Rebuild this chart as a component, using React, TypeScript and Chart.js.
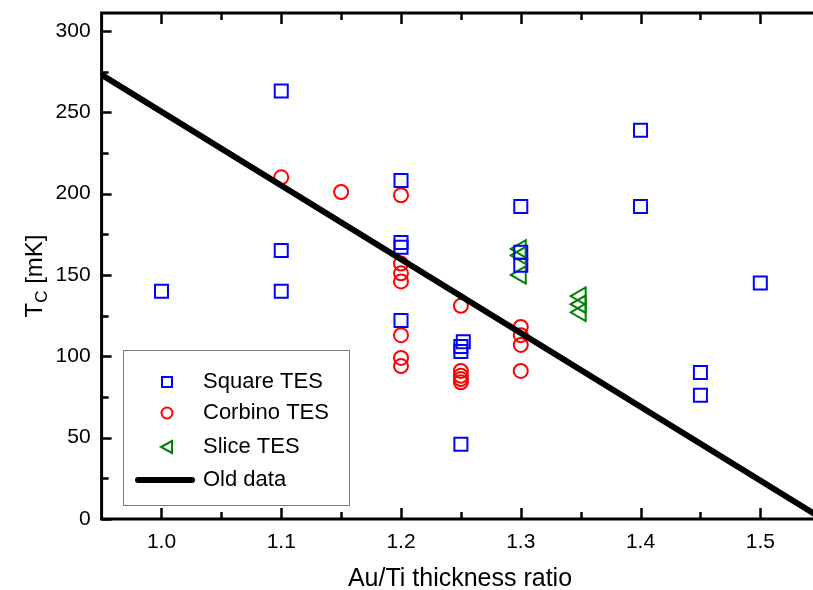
import { useEffect, useRef } from "react";
import { Chart, registerables } from "chart.js";

Chart.register(...registerables);

// ---- Data ----
const squareX = [1.0, 1.1, 1.1, 1.1, 1.2, 1.2, 1.2, 1.2, 1.252, 1.25, 1.25, 1.25, 1.3, 1.3, 1.3, 1.4, 1.4, 1.45, 1.45, 1.5];
const squareY = [140, 263, 165, 140, 208, 170, 167, 122, 109, 106, 103, 46, 192, 164, 156, 239, 192, 90, 76, 145];

const circleX = [1.1, 1.15, 1.2, 1.2, 1.2, 1.2, 1.2, 1.2, 1.2, 1.25, 1.25, 1.25, 1.25, 1.25, 1.3, 1.3, 1.3, 1.3];
const circleY = [210, 201, 199, 157, 151, 146, 113, 99, 94, 131, 91, 88, 86, 84, 118, 113, 107, 91];

const triangleX = [1.3, 1.3, 1.3, 1.35, 1.35, 1.35];
const triangleY = [166, 162, 150, 137, 132, 127];

const oldLineX = [0.95, 1.55];
const oldLineY = [273, 1];

const xTickValues = [1.0, 1.1, 1.2, 1.3, 1.4, 1.5];
const xMinorValues = [1.05, 1.15, 1.25, 1.35, 1.45];
const yTickValues = [0, 50, 100, 150, 200, 250, 300];
const yMinorValues = [25, 75, 125, 175, 225, 275];

const xTitle = "Au/Ti thickness ratio";
const yTitleMain = "T";
const yTitleSub = "C";
const yTitleRest = " [mK]";
const legendLabels = ["Square TES", "Corbino TES", "Slice TES", "Old data"];

const FONT = "'Liberation Sans', Arial, sans-serif";
const BLUE = "#0000ff";
const RED = "#ff0000";
const GREEN = "#008000";

const toPoints = (xs: number[], ys: number[]) => xs.map((x, i) => ({ x, y: ys[i] }));

const decorPlugin = {
  id: "decor",
  afterDraw(chart: any) {
    const ctx = chart.ctx as CanvasRenderingContext2D;
    const { left, top, right, bottom } = chart.chartArea;
    const xs = chart.scales.x;
    const ys = chart.scales.y;
    ctx.save();
    ctx.strokeStyle = "#000";
    ctx.lineCap = "butt";
    // axis lines
    ctx.lineWidth = 3;
    ctx.beginPath();
    ctx.moveTo(left, top);
    ctx.lineTo(right, top);
    ctx.moveTo(left, bottom);
    ctx.lineTo(right, bottom);
    ctx.moveTo(left, top - 1.5);
    ctx.lineTo(left, bottom + 1.5);
    ctx.stroke();
    // ticks
    ctx.lineWidth = 2.5;
    ctx.beginPath();
    const xt = (vals: number[], len: number) => {
      vals.forEach((v) => {
        const px = Math.round(xs.getPixelForValue(v)) + 0.5;
        ctx.moveTo(px, bottom);
        ctx.lineTo(px, bottom - len);
        ctx.moveTo(px, top);
        ctx.lineTo(px, top + len);
      });
    };
    xt(xTickValues, 11);
    xt(xMinorValues, 7);
    const yt = (vals: number[], len: number) => {
      vals.forEach((v) => {
        const py = Math.round(ys.getPixelForValue(v)) + 0.5;
        ctx.moveTo(left, py);
        ctx.lineTo(left + len, py);
      });
    };
    yt(yTickValues, 10);
    yt(yMinorValues, 7);
    ctx.stroke();

    // x title
    ctx.fillStyle = "#000";
    ctx.font = `25px ${FONT}`;
    ctx.textAlign = "center";
    ctx.textBaseline = "alphabetic";
    ctx.fillText(xTitle, 460, 586);

    // y title (rotated with subscript)
    ctx.save();
    ctx.translate(42, 276);
    ctx.rotate(-Math.PI / 2);
    ctx.textAlign = "left";
    const bigFont = `24px ${FONT}`;
    const smallFont = `17px ${FONT}`;
    ctx.font = bigFont;
    const wT = ctx.measureText(yTitleMain).width;
    const wR = ctx.measureText(yTitleRest).width;
    ctx.font = smallFont;
    const wC = ctx.measureText(yTitleSub).width;
    const total = wT + wC + wR;
    let sx = -total / 2;
    ctx.font = bigFont;
    ctx.fillText(yTitleMain, sx, 0);
    sx += wT;
    ctx.font = smallFont;
    ctx.fillText(yTitleSub, sx, 5);
    sx += wC;
    ctx.font = bigFont;
    ctx.fillText(yTitleRest, sx, 0);
    ctx.restore();

    // legend
    ctx.fillStyle = "#fff";
    ctx.fillRect(123.5, 350.5, 226, 155);
    ctx.strokeStyle = "#7a7a7a";
    ctx.lineWidth = 1;
    ctx.strokeRect(123.5, 350.5, 226, 155);
    const mx = 167;
    const rowY = [382, 413, 447, 480];
    ctx.lineWidth = 2;
    // square
    ctx.strokeStyle = BLUE;
    ctx.strokeRect(mx - 5, rowY[0] - 5, 10, 10);
    // circle
    ctx.strokeStyle = RED;
    ctx.beginPath();
    ctx.arc(mx, rowY[1], 5.5, 0, Math.PI * 2);
    ctx.stroke();
    // triangle (left)
    ctx.strokeStyle = GREEN;
    ctx.beginPath();
    ctx.moveTo(mx - 6, rowY[2]);
    ctx.lineTo(mx + 5, rowY[2] - 6);
    ctx.lineTo(mx + 5, rowY[2] + 6);
    ctx.closePath();
    ctx.stroke();
    // line
    ctx.strokeStyle = "#000";
    ctx.lineWidth = 6;
    ctx.lineCap = "round";
    ctx.beginPath();
    ctx.moveTo(138, rowY[3]);
    ctx.lineTo(192, rowY[3]);
    ctx.stroke();
    ctx.fillStyle = "#000";
    ctx.font = `22px ${FONT}`;
    ctx.textAlign = "left";
    ctx.textBaseline = "middle";
    legendLabels.forEach((t, i) => ctx.fillText(t, 203, rowY[i]));
    ctx.restore();
  },
};

export default function App() {
  const ref = useRef<HTMLCanvasElement | null>(null);
  useEffect(() => {
    if (!ref.current) return;
    const tickFont = { family: FONT, size: 21 };
    const chart = new Chart(ref.current, {
      type: "scatter",
      data: {
        datasets: [
          {
            label: legendLabels[3],
            data: toPoints(oldLineX, oldLineY),
            showLine: true,
            borderColor: "#000",
            backgroundColor: "#000",
            borderWidth: 6,
            pointRadius: 0,
            order: 0,
          } as any,
          {
            label: legendLabels[0],
            data: toPoints(squareX, squareY),
            pointStyle: "rect",
            pointRadius: 9.2,
            borderColor: BLUE,
            backgroundColor: "rgba(0,0,0,0)",
            borderWidth: 2,
            order: 1,
          },
          {
            label: legendLabels[1],
            data: toPoints(circleX, circleY),
            pointStyle: "circle",
            pointRadius: 7,
            borderColor: RED,
            backgroundColor: "rgba(0,0,0,0)",
            borderWidth: 2,
            order: 2,
          },
          {
            label: legendLabels[2],
            data: toPoints(triangleX, triangleY),
            pointStyle: "triangle",
            pointRotation: -90,
            pointRadius: 10,
            borderColor: GREEN,
            backgroundColor: "rgba(0,0,0,0)",
            borderWidth: 2,
            order: 3,
          },
        ],
      },
      options: {
        responsive: false,
        animation: false,
        devicePixelRatio: 1,
        events: [],
        layout: { autoPadding: false, padding: { top: 13, right: 0, left: 0, bottom: 0 } },
        plugins: { legend: { display: false }, tooltip: { enabled: false } },
        scales: {
          x: {
            type: "linear",
            min: 0.95,
            max: 1.544,
            grid: { display: false, drawTicks: false },
            border: { display: false },
            afterBuildTicks: (s: any) => {
              s.ticks = xTickValues.map((v) => ({ value: v }));
            },
            afterFit: (s: any) => {
              s.height = 71;
              s.paddingLeft = 0;
              s.paddingRight = 0;
              s.paddingTop = 0;
              s.paddingBottom = 0;
            },
            ticks: {
              padding: 11,
              font: tickFont,
              color: "#000",
              autoSkip: false,
              maxRotation: 0,
              callback: (v: any) => Number(v).toFixed(1),
            },
          },
          y: {
            type: "linear",
            min: 0,
            max: 311,
            grid: { display: false, drawTicks: false },
            border: { display: false },
            afterBuildTicks: (s: any) => {
              s.ticks = yTickValues.map((v) => ({ value: v }));
            },
            afterFit: (s: any) => {
              s.width = 101.6;
              s.paddingLeft = 0;
              s.paddingRight = 0;
              s.paddingTop = 0;
              s.paddingBottom = 0;
            },
            ticks: {
              padding: 11,
              font: tickFont,
              color: "#000",
              autoSkip: false,
              callback: (v: any) => String(v),
            },
          },
        },
      },
      plugins: [decorPlugin],
    });
    return () => chart.destroy();
  }, []);
  return (
    <div style={{ position: "fixed", left: 0, top: 0, width: 813, height: 590, background: "#fff" }}>
      <canvas ref={ref} width={813} height={590} style={{ display: "block" }} />
    </div>
  );
}
